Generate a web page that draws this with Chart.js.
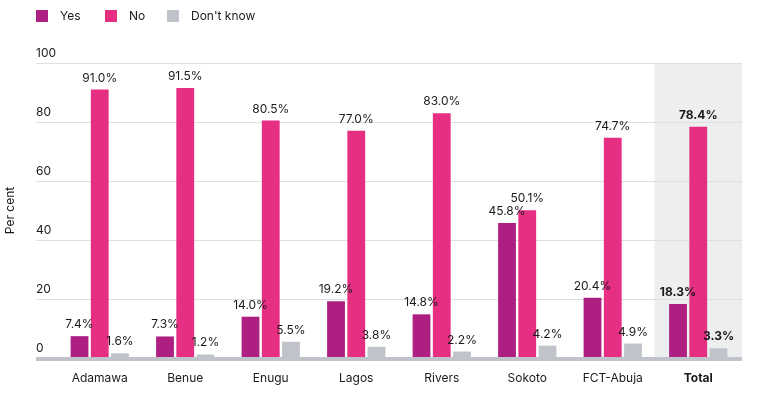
<!DOCTYPE html>
<html>
<head>
<meta charset="utf-8">
<script src="https://cdn.jsdelivr.net/npm/chart.js@4/dist/chart.umd.min.js"></script>
<style>
	body { margin: 0; background: #fff; font-family: Inter, 'Noto Sans', sans-serif; }
	#wrap { position: relative; width: 764px; height: 396px; }
	#legend { position: absolute; top: 0; left: 0; width: 764px; height: 30px; }
	.item { position: absolute; top: 8px; display: flex; align-items: center; font-size: 12px; color: #1a1a1a; }
	.sw { width: 12px; height: 12px; margin-right: 12px; }
</style>
</head>
<body>
<div id="wrap">
	<canvas id="chart"></canvas>
	<div id="legend"></div>
</div>
<script>
const regions = ['Adamawa', 'Benue', 'Enugu', 'Lagos', 'Rivers', 'Sokoto', 'FCT-Abuja', 'Total']
const seriesNames = ['Yes', 'No', "Don't know"]
const yesValues = [7.4, 7.3, 14.0, 19.2, 14.8, 45.8, 20.4, 18.3]
const noValues = [91.0, 91.5, 80.5, 77.0, 83.0, 50.1, 74.7, 78.4]
const dontKnowValues = [1.6, 1.2, 5.5, 3.8, 2.2, 4.2, 4.9, 3.3]
const yTicks = [0, 20, 40, 60, 80, 100]
const colors = ['#ad1f80', '#e62e82', '#c0c4ca']

const FONT = 'Inter, "Noto Sans", sans-serif'
const totalIndex = regions.length - 1

// legend as html
const legend = document.getElementById('legend')
const legendLeft = [36, 105, 167]
seriesNames.forEach((name, i) => {
	const item = document.createElement('div')
	item.className = 'item'
	item.style.left = legendLeft[i] + 'px'
	item.innerHTML = `<span class="sw" style="background:${colors[i]}"></span><span>${name}</span>`
	legend.appendChild(item)
})

// shaded Total band, custom grid, baseline
const backdrop = {
	id: 'backdrop',
	beforeDatasetsDraw(chart) {
		const { ctx, scales: { x, y } } = chart
		const band = x.getPixelForValue(1) - x.getPixelForValue(0)
		const cx = x.getPixelForValue(totalIndex)
		ctx.save()
		ctx.fillStyle = '#edeef0'
		ctx.fillRect(cx - band / 2 - 1, y.getPixelForValue(100), band + 2, y.getPixelForValue(0) - y.getPixelForValue(100))

		ctx.font = '12px ' + FONT
		ctx.textAlign = 'left'
		ctx.textBaseline = 'bottom'
		yTicks.forEach(t => {
			const py = Math.round(y.getPixelForValue(t)) + 0.5
			if (t > 0) {
				ctx.strokeStyle = '#dedfe1'
				ctx.lineWidth = 1
				ctx.beginPath()
				ctx.moveTo(36, py)
				ctx.lineTo(742, py)
				ctx.stroke()
			}
			ctx.fillStyle = '#1a1a1a'
			ctx.fillText(String(t), 36, py - 4)
		})
		ctx.restore()
	},
	afterDatasetsDraw(chart) {
		const { ctx, scales: { y } } = chart
		ctx.save()
		ctx.fillStyle = '#c0c4ca'
		ctx.fillRect(36, y.getPixelForValue(0) - 1, 706, 4)

		ctx.textAlign = 'center'
		ctx.textBaseline = 'alphabetic'
		ctx.fillStyle = '#1a1a1a'
		chart.data.datasets.forEach((ds, di) => {
			chart.getDatasetMeta(di).data.forEach((bar, i) => {
				ctx.font = (i === totalIndex ? 'bold ' : '') + '12px ' + FONT
				ctx.fillText(ds.data[i].toFixed(1) + '%', bar.x, bar.y - 8)
			})
		})
		ctx.restore()
	},
}

const ctx = document.getElementById('chart').getContext('2d')
const myChart = new Chart(ctx, {
	type: 'bar',
	data: {
		labels: regions,
		datasets: [yesValues, noValues, dontKnowValues].map((values, i) => ({
			label: seriesNames[i],
			data: values,
			backgroundColor: colors[i],
			categoryPercentage: 0.71,
			barPercentage: 0.88,
		})),
	},
	options: {
		responsive: true,
		maintainAspectRatio: false,
		animation: false,
		layout: {
			padding: { top: 63, right: 23, left: 0, bottom: 0 },
		},
		plugins: {
			legend: { display: false },
			tooltip: { enabled: false },
		},
		scales: {
			x: {
				grid: { display: false, drawTicks: false },
				border: { display: false },
				ticks: {
					padding: 13,
					color: '#1a1a1a',
					font: c => ({ family: FONT, size: 12, weight: c.index === totalIndex ? 'bold' : 'normal' }),
				},
				afterFit: s => { s.height = 38 },
			},
			y: {
				min: 0,
				max: 100,
				grid: { display: false, drawTicks: false },
				border: { display: false },
				ticks: { display: false },
				title: {
					display: true,
					text: 'Per cent',
					color: '#1a1a1a',
					font: { family: FONT, size: 12 },
					padding: { top: 3, bottom: 0 },
				},
				afterFit: s => { s.width = 57 },
			},
		},
	},
	plugins: [backdrop],
})
</script>
</body>
</html>
